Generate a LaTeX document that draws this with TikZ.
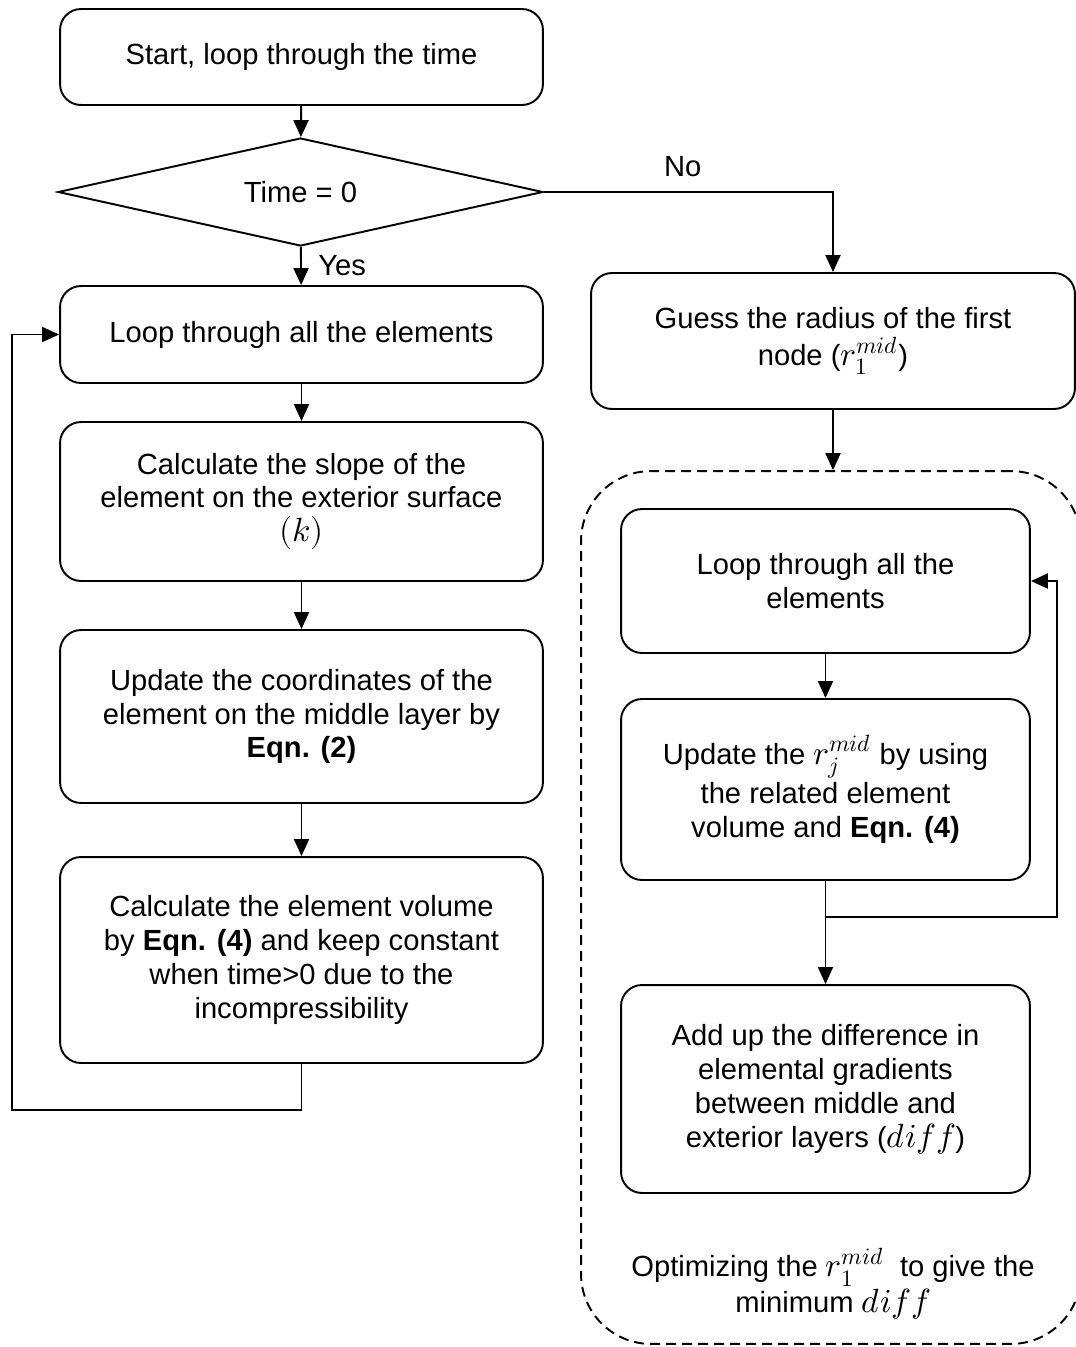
\documentclass[tikz,border=0pt]{standalone}
\usepackage{amsmath}
\usepackage{fontspec}
\usepackage{unicode-math}
\setmainfont{Liberation Sans}
\setmathfont{latinmodern-math.otf}[Scale=1.15]
\usepackage{tikz}
\usetikzlibrary{shapes.geometric,arrows.meta}

\begin{document}
\begin{tikzpicture}[x=0.02cm, y=-0.02cm, line width=1.1pt,
	>={Triangle[length=0.34cm,width=0.3cm]},
	txt/.style={font=\fontsize{16.6pt}{19.3pt}\selectfont, align=center},
	box/.style={txt, draw, rounded corners=0.42cm, minimum width=9.66cm},
	inbox/.style={txt, draw, rounded corners=0.42cm, minimum width=8.18cm},
	cond/.style={txt, draw, diamond, aspect=4, inner sep=0pt, minimum width=9.7cm, minimum height=2.16cm}]
	%\draw[help lines, thick] (0,0) grid[step=50] (1076,1347);
	\useasboundingbox (0,0) rectangle (1076,1347);
	\node[box, minimum height=1.92cm] (start) at (301.5,57) {Start, loop through the time};
	\node[cond] (time) at (300.5,192) {Time = 0};
	\node[box, minimum height=1.94cm] (loop) at (301.5,334.5) {Loop through all the elements};
	\node[box, minimum height=3.18cm] (slope) at (301.5,501.5) {Calculate the slope of the\\ element on the exterior surface\\ $(k)$};
	\node[box, minimum height=3.46cm] (update) at (301.5,716.5) {Update the coordinates of the\\ element on the middle layer by\\ \textbf{Eqn. (2)}};
	\node[box, minimum height=4.12cm] (volume) at (301.5,960) {Calculate the element volume\\ by \textbf{Eqn. (4)} and keep constant\\ when time>0 due to the\\ incompressibility};
	\coordinate (back) at (12,1110);

	\node[box, minimum width=9.68cm, minimum height=2.72cm] (guess) at (833,341) {Guess the radius of the first\\[1.5pt] node ($r_1^{mid}$)};
	\node[draw, dashed, dash pattern=on 0.2cm off 0.12cm, rounded corners=1.4cm, minimum width=10cm, minimum height=17.46cm] (frame) at (831,907.5) {};
	\node[inbox, minimum height=2.88cm] (loopr) at (825.5,581) {Loop through all the\\ elements};
	\node[inbox, minimum height=3.62cm] (updater) at (825.5,789.5) {Update the $r_j^{mid}$ by using\\[1.5pt] the related element\\ volume and \textbf{Eqn. (4)}};
	\node[inbox, minimum height=4.16cm] (addup) at (825.5,1089) {Add up the difference in\\ elemental gradients\\ between middle and\\ exterior layers ($diff$)};
	\node[txt] (opt) at (833,1284) {Optimizing the $r_1^{mid}$~ to give the\\[1pt] minimum $diff$};
	\coordinate (side) at (1057,917);

	\draw[->] (start) -- (time);
	\draw[->] (time) -- node[right, xshift=6pt, txt] {Yes} (loop);
	\draw[->] (time.east) -| node[pos=0.24, above, yshift=5pt, txt] {No} (guess.north);
	\draw[->] (loop) -- (slope);
	\draw[->] (slope) -- (update);
	\draw[->] (update) -- (volume);
	\draw[->] (volume.south) |- (back) |- (loop.west);
	\draw[->] (guess) -- (guess.south |- frame.north);
	\draw[->] (loopr) -- (updater);
	\draw[->] (updater.south) |- (side) |- (loopr.east);
	\draw[->] (updater) -- (addup);
\end{tikzpicture}
\end{document}
